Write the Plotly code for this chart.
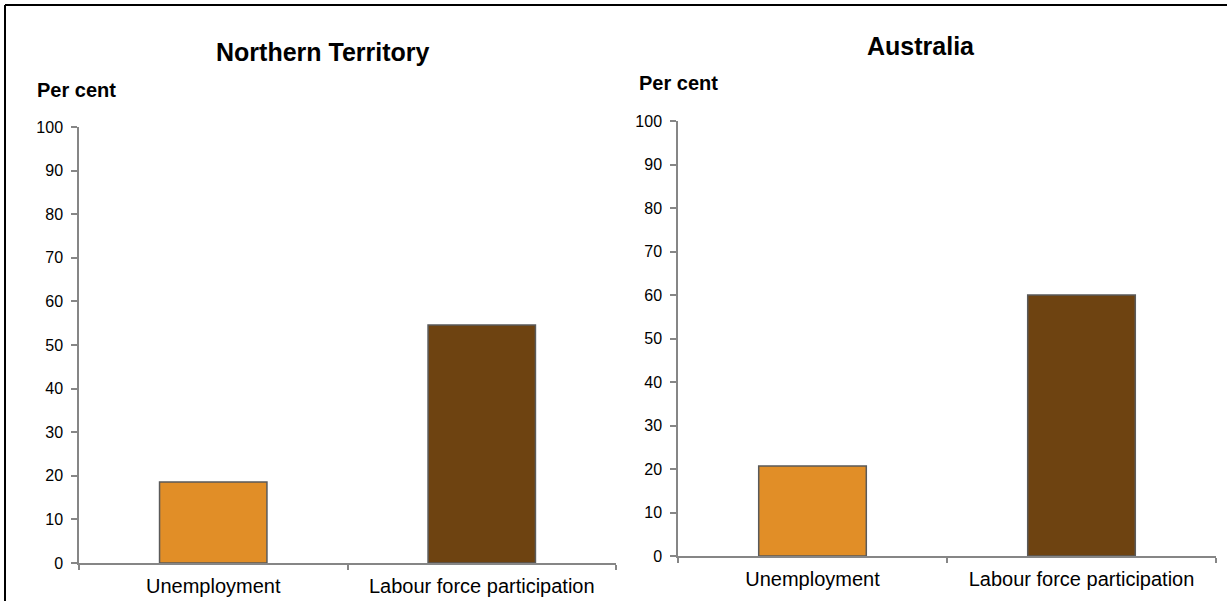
import plotly.graph_objects as go

categories = ["Unemployment", "Labour force participation"]
nt_values = [18.6, 54.6]
aus_values = [20.7, 60.0]
bar_colors = ["#E18E27", "#6E4311"]
panel_titles = ["Northern Territory", "Australia"]
y_ticks = list(range(0, 101, 10))

W, H = 1227, 601
FONT = "Liberation Sans, Arial, sans-serif"


def px(x):
    return x / W


def py(y):
    return 1 - y / H


fig = go.Figure()
fig.add_trace(go.Bar(x=categories, y=nt_values, xaxis="x", yaxis="y",
                     marker=dict(color=bar_colors, line=dict(color="#5A5A5A", width=1.5)),
                     width=0.4, showlegend=False, hoverinfo="x+y"))
fig.add_trace(go.Bar(x=categories, y=aus_values, xaxis="x2", yaxis="y2",
                     marker=dict(color=bar_colors, line=dict(color="#5A5A5A", width=1.5)),
                     width=0.4, showlegend=False, hoverinfo="x+y"))

axis_common_x = dict(showline=True, linecolor="#868686", linewidth=1.5, ticks="outside",
                     tickson="boundaries", ticklen=5, tickcolor="#868686", tickwidth=1.5,
                     showgrid=False, zeroline=False, fixedrange=True, automargin=False,
                     ticklabelstandoff=4,
                     tickfont=dict(family=FONT, size=20, color="#000000"))
axis_common_y = dict(showline=True, linecolor="#868686", linewidth=1.5, ticks="outside",
                     ticklen=6, tickcolor="#868686", tickwidth=1.5, range=[0, 100],
                     tickvals=y_ticks, showgrid=False, zeroline=False, fixedrange=True,
                     automargin=False, ticklabelstandoff=5,
                     tickfont=dict(family=FONT, size=16, color="#000000"))

fig.update_layout(
    template="none",
    width=W, height=H,
    margin=dict(l=0, r=0, t=0, b=0, pad=0, autoexpand=False),
    paper_bgcolor="white", plot_bgcolor="white",
    xaxis=dict(domain=[px(79), px(616)], anchor="y", **axis_common_x),
    yaxis=dict(domain=[py(563), py(127)], anchor="x", **axis_common_y),
    xaxis2=dict(domain=[px(678), px(1216)], anchor="y2", **axis_common_x),
    yaxis2=dict(domain=[py(556), py(121)], anchor="x2", **axis_common_y),
    annotations=[
        dict(text="<b>" + panel_titles[0] + "</b>", x=px(323), y=py(52), xref="paper", yref="paper",
             showarrow=False, xanchor="center", yanchor="middle",
             font=dict(family=FONT, size=25, color="#000000")),
        dict(text="<b>" + panel_titles[1] + "</b>", x=px(921), y=py(46), xref="paper", yref="paper",
             showarrow=False, xanchor="center", yanchor="middle",
             font=dict(family=FONT, size=25, color="#000000")),
        dict(text="<b>Per cent</b>", x=px(35), y=py(90), xref="paper", yref="paper",
             showarrow=False, xanchor="left", yanchor="middle",
             font=dict(family=FONT, size=20, color="#000000")),
        dict(text="<b>Per cent</b>", x=px(637), y=py(83), xref="paper", yref="paper",
             showarrow=False, xanchor="left", yanchor="middle",
             font=dict(family=FONT, size=20, color="#000000")),
    ],
    shapes=[
        dict(type="line", xref="paper", yref="paper", x0=px(5), x1=1, y0=py(5), y1=py(5),
             line=dict(color="#000000", width=2)),
        dict(type="line", xref="paper", yref="paper", x0=px(5), x1=px(5), y0=py(5), y1=0,
             line=dict(color="#000000", width=2)),
    ],
)

post = (
    "document.documentElement.style.margin='0';"
    "document.body.style.margin='0';"
    "document.body.style.overflow='hidden';"
    "var gd=document.getElementById('{plot_id}');"
    "gd.style.position='fixed';gd.style.top='0px';gd.style.left='0px';"
)
fig.write_html("out.html", config=dict(displayModeBar=False), post_script=post)
